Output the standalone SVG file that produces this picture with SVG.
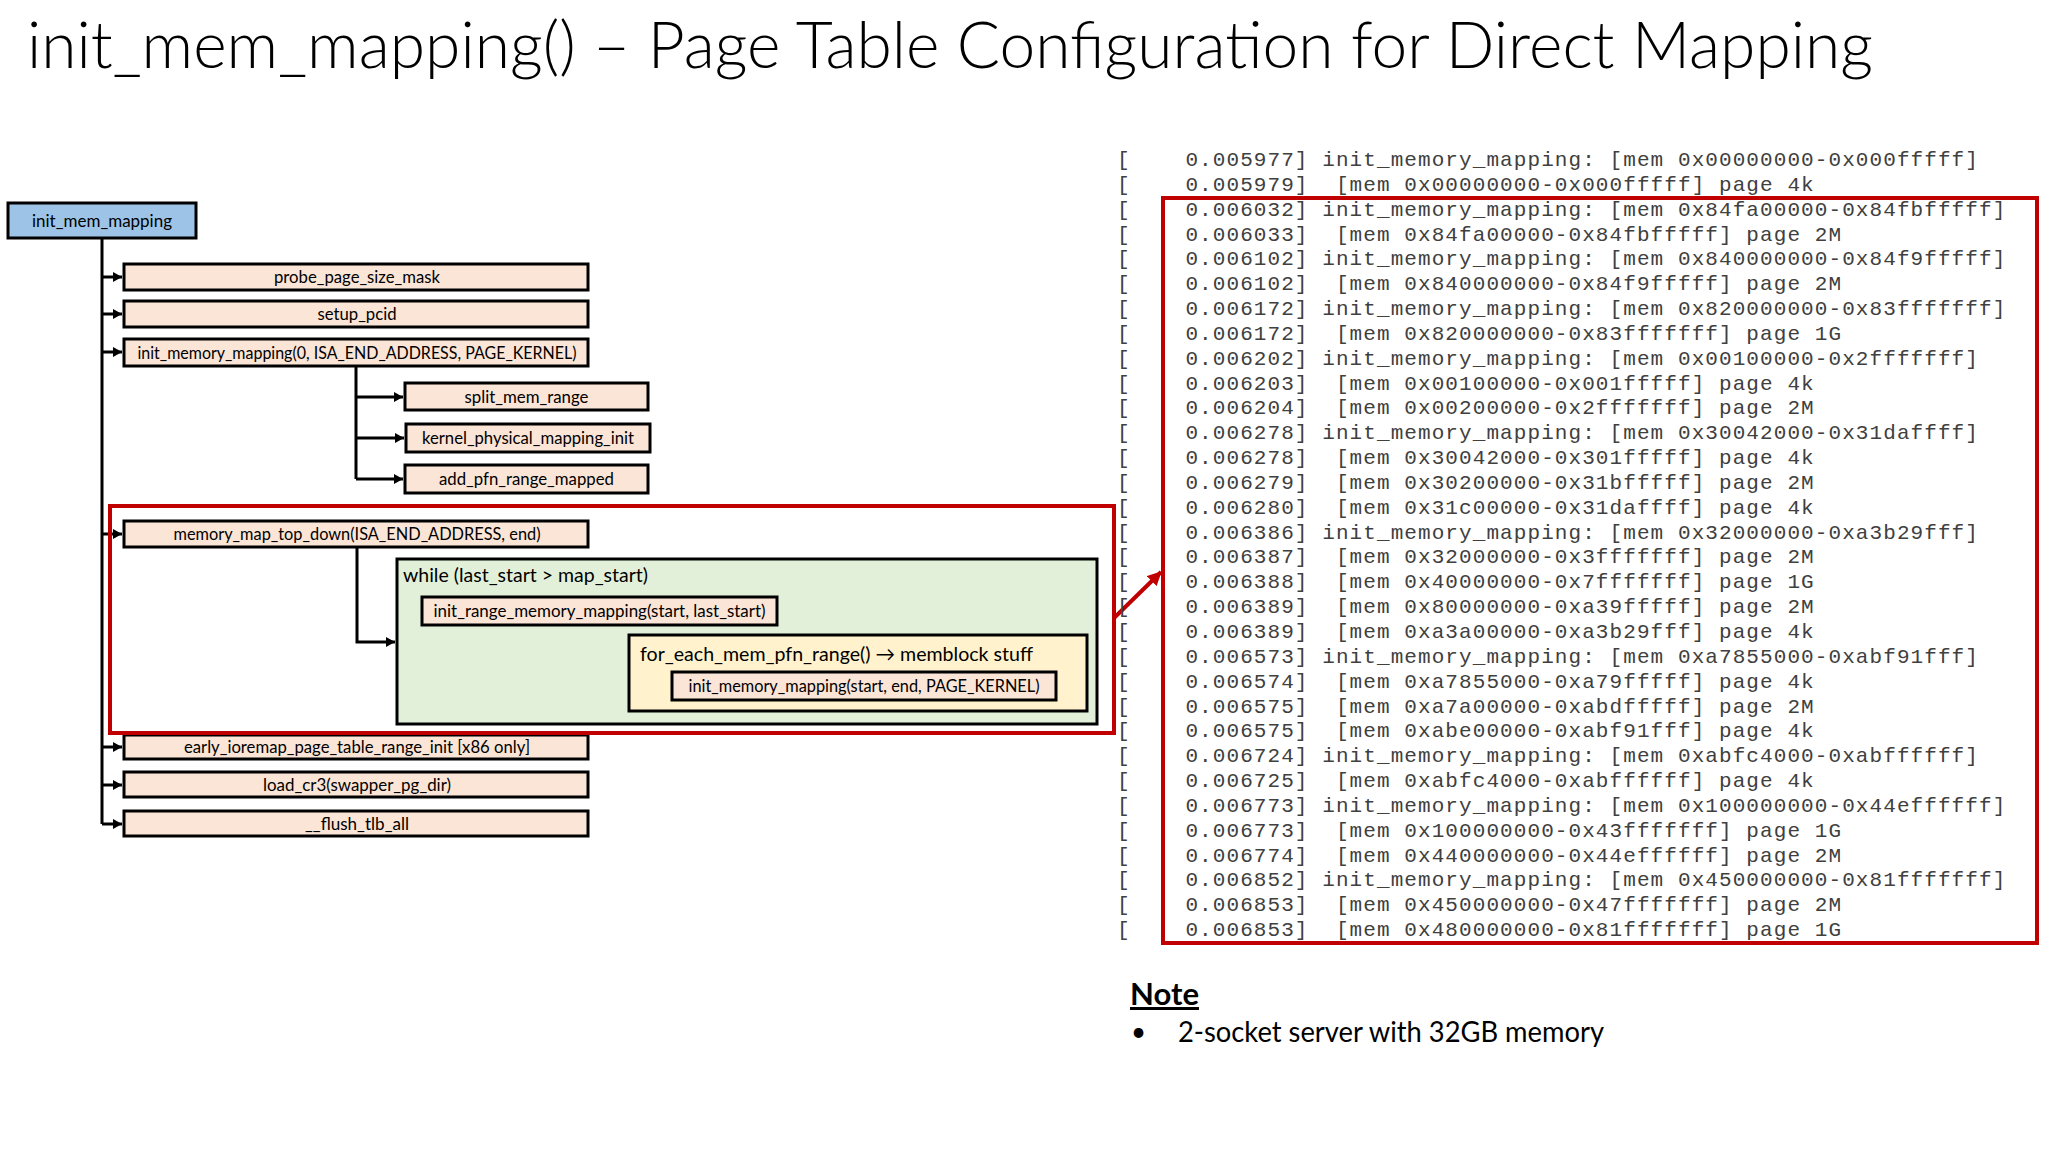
<svg xmlns="http://www.w3.org/2000/svg" width="2048" height="1152" viewBox="0 0 2048 1152">
<style>
.box{stroke:#000;stroke-width:3}
.peach{fill:#fbe5d6}
.blue{fill:#9dc3e6}
.green{fill:#e2f0d9}
.yellow{fill:#fff2cc}
.lbl{font-family:Lato,"Open Sans","Liberation Sans",sans-serif;font-size:17px;fill:#000;text-anchor:middle}
.lbl2{font-family:Lato,"Open Sans","Liberation Sans",sans-serif;font-size:20px;fill:#000}
.conn{stroke:#000;stroke-width:3;fill:none}
.red{stroke:#c00000;stroke-width:4;fill:none}
.log{font-family:"Liberation Mono","Courier New",monospace;font-size:21px;letter-spacing:1.08px;fill:#404040;white-space:pre}
</style>
<defs>
<marker id="ah" markerUnits="userSpaceOnUse" markerWidth="9" markerHeight="10" refX="9" refY="5" orient="auto">
<path d="M0,0 L9,5 L0,10 z" fill="#000"/>
</marker>
<marker id="rah" markerUnits="userSpaceOnUse" markerWidth="14" markerHeight="14" refX="13" refY="7" orient="auto">
<path d="M0,0 L14,7 L0,14 z" fill="#c00000"/>
</marker>
</defs>
<rect width="2048" height="1152" fill="#fff"/>
<text x="27" y="68" font-family="Lato,'Open Sans','Liberation Sans',sans-serif" font-weight="300" font-size="66" textLength="1846" lengthAdjust="spacingAndGlyphs" fill="#000">init_mem_mapping() – Page Table Configuration for Direct Mapping</text>

<g id="connectors">
<path class="conn" d="M102,238 V824"/>
<path class="conn" d="M102,277 H122" marker-end="url(#ah)"/>
<path class="conn" d="M102,314 H122" marker-end="url(#ah)"/>
<path class="conn" d="M102,352 H122" marker-end="url(#ah)"/>
<path class="conn" d="M102,534 H122" marker-end="url(#ah)"/>
<path class="conn" d="M102,747 H122" marker-end="url(#ah)"/>
<path class="conn" d="M102,785 H122" marker-end="url(#ah)"/>
<path class="conn" d="M102,824 H122" marker-end="url(#ah)"/>
<path class="conn" d="M356,366 V479"/>
<path class="conn" d="M356,397 H403" marker-end="url(#ah)"/>
<path class="conn" d="M356,438 H404" marker-end="url(#ah)"/>
<path class="conn" d="M356,479 H403" marker-end="url(#ah)"/>
<path class="conn" d="M357,547 V642 H395" marker-end="url(#ah)"/>
<path class="conn" d="M599,625 V673 H627" marker-end="url(#ah)"/>
<path d="M1114,618 L1161,572" stroke="#c00000" stroke-width="4" fill="none" marker-end="url(#rah)"/>
</g>

<g id="init_mem_mapping"><rect class="box blue" x="8" y="203" width="188" height="35"/><text class="lbl" x="102" y="226.5" textLength="140" lengthAdjust="spacingAndGlyphs">init_mem_mapping</text></g>
<g id="probe_page_size_mask"><rect class="box peach" x="124" y="264" width="464" height="26"/><text class="lbl" x="357" y="283" textLength="166" lengthAdjust="spacingAndGlyphs">probe_page_size_mask</text></g>
<g id="setup_pcid"><rect class="box peach" x="124" y="301" width="464" height="26"/><text class="lbl" x="357" y="320" textLength="79" lengthAdjust="spacingAndGlyphs">setup_pcid</text></g>
<g id="init_memory_mapping_isa"><rect class="box peach" x="124" y="339" width="464" height="27"/><text class="lbl" x="357" y="358.5" textLength="439" lengthAdjust="spacingAndGlyphs">init_memory_mapping(0, ISA_END_ADDRESS, PAGE_KERNEL)</text></g>
<g id="split_mem_range"><rect class="box peach" x="405" y="383" width="243" height="27"/><text class="lbl" x="526.5" y="402.5" textLength="124" lengthAdjust="spacingAndGlyphs">split_mem_range</text></g>
<g id="kernel_physical_mapping_init"><rect class="box peach" x="406" y="424" width="244" height="28"/><text class="lbl" x="528" y="444" textLength="212" lengthAdjust="spacingAndGlyphs">kernel_physical_mapping_init</text></g>
<g id="add_pfn_range_mapped"><rect class="box peach" x="405" y="465" width="243" height="28"/><text class="lbl" x="526.5" y="485" textLength="175" lengthAdjust="spacingAndGlyphs">add_pfn_range_mapped</text></g>
<g id="memory_map_top_down"><rect class="box peach" x="124" y="521" width="464" height="26"/><text class="lbl" x="357" y="540" textLength="367" lengthAdjust="spacingAndGlyphs">memory_map_top_down(ISA_END_ADDRESS, end)</text></g>
<g id="while_loop"><rect class="box green" x="397" y="559" width="700" height="165"/><text class="lbl2" x="403" y="582" textLength="245" lengthAdjust="spacingAndGlyphs">while (last_start &gt; map_start)</text></g>
<g id="init_range_memory_mapping"><rect class="box peach" x="422" y="597" width="355" height="28"/><text class="lbl" x="599.5" y="617" textLength="332" lengthAdjust="spacingAndGlyphs">init_range_memory_mapping(start, last_start)</text></g>
<g id="for_each_mem_pfn_range"><rect class="box yellow" x="629" y="635" width="458" height="76"/><text class="lbl2" x="640" y="661" textLength="393" lengthAdjust="spacingAndGlyphs">for_each_mem_pfn_range() → memblock stuff</text></g>
<g id="init_memory_mapping_range"><rect class="box peach" x="672" y="672" width="384" height="28"/><text class="lbl" x="864" y="692" textLength="351" lengthAdjust="spacingAndGlyphs">init_memory_mapping(start, end, PAGE_KERNEL)</text></g>
<g id="early_ioremap"><rect class="box peach" x="124" y="735" width="464" height="24"/><text class="lbl" x="357" y="753" textLength="346" lengthAdjust="spacingAndGlyphs">early_ioremap_page_table_range_init [x86 only]</text></g>
<g id="load_cr3"><rect class="box peach" x="124" y="772" width="464" height="25"/><text class="lbl" x="357" y="790.5" textLength="188" lengthAdjust="spacingAndGlyphs">load_cr3(swapper_pg_dir)</text></g>
<g id="flush_tlb_all"><rect class="box peach" x="124" y="811" width="464" height="25"/><text class="lbl" x="357" y="829.5" textLength="104" lengthAdjust="spacingAndGlyphs">__flush_tlb_all</text></g>

<rect id="highlight_left" class="red" x="110" y="506" width="1004" height="227"/>

<g id="log">
<text class="log" xml:space="preserve" x="1117" y="166">[    0.005977] init_memory_mapping: [mem 0x00000000-0x000fffff]</text>
<text class="log" xml:space="preserve" x="1117" y="190.8">[    0.005979]  [mem 0x00000000-0x000fffff] page 4k</text>
<text class="log" xml:space="preserve" x="1117" y="215.7">[    0.006032] init_memory_mapping: [mem 0x84fa00000-0x84fbfffff]</text>
<text class="log" xml:space="preserve" x="1117" y="240.5">[    0.006033]  [mem 0x84fa00000-0x84fbfffff] page 2M</text>
<text class="log" xml:space="preserve" x="1117" y="265.4">[    0.006102] init_memory_mapping: [mem 0x840000000-0x84f9fffff]</text>
<text class="log" xml:space="preserve" x="1117" y="290.2">[    0.006102]  [mem 0x840000000-0x84f9fffff] page 2M</text>
<text class="log" xml:space="preserve" x="1117" y="315.0">[    0.006172] init_memory_mapping: [mem 0x820000000-0x83fffffff]</text>
<text class="log" xml:space="preserve" x="1117" y="339.9">[    0.006172]  [mem 0x820000000-0x83fffffff] page 1G</text>
<text class="log" xml:space="preserve" x="1117" y="364.7">[    0.006202] init_memory_mapping: [mem 0x00100000-0x2fffffff]</text>
<text class="log" xml:space="preserve" x="1117" y="389.6">[    0.006203]  [mem 0x00100000-0x001fffff] page 4k</text>
<text class="log" xml:space="preserve" x="1117" y="414.4">[    0.006204]  [mem 0x00200000-0x2fffffff] page 2M</text>
<text class="log" xml:space="preserve" x="1117" y="439.2">[    0.006278] init_memory_mapping: [mem 0x30042000-0x31daffff]</text>
<text class="log" xml:space="preserve" x="1117" y="464.1">[    0.006278]  [mem 0x30042000-0x301fffff] page 4k</text>
<text class="log" xml:space="preserve" x="1117" y="488.9">[    0.006279]  [mem 0x30200000-0x31bfffff] page 2M</text>
<text class="log" xml:space="preserve" x="1117" y="513.8">[    0.006280]  [mem 0x31c00000-0x31daffff] page 4k</text>
<text class="log" xml:space="preserve" x="1117" y="538.6">[    0.006386] init_memory_mapping: [mem 0x32000000-0xa3b29fff]</text>
<text class="log" xml:space="preserve" x="1117" y="563.4">[    0.006387]  [mem 0x32000000-0x3fffffff] page 2M</text>
<text class="log" xml:space="preserve" x="1117" y="588.3">[    0.006388]  [mem 0x40000000-0x7fffffff] page 1G</text>
<text class="log" xml:space="preserve" x="1117" y="613.1">[    0.006389]  [mem 0x80000000-0xa39fffff] page 2M</text>
<text class="log" xml:space="preserve" x="1117" y="638.0">[    0.006389]  [mem 0xa3a00000-0xa3b29fff] page 4k</text>
<text class="log" xml:space="preserve" x="1117" y="662.8">[    0.006573] init_memory_mapping: [mem 0xa7855000-0xabf91fff]</text>
<text class="log" xml:space="preserve" x="1117" y="687.6">[    0.006574]  [mem 0xa7855000-0xa79fffff] page 4k</text>
<text class="log" xml:space="preserve" x="1117" y="712.5">[    0.006575]  [mem 0xa7a00000-0xabdfffff] page 2M</text>
<text class="log" xml:space="preserve" x="1117" y="737.3">[    0.006575]  [mem 0xabe00000-0xabf91fff] page 4k</text>
<text class="log" xml:space="preserve" x="1117" y="762.2">[    0.006724] init_memory_mapping: [mem 0xabfc4000-0xabffffff]</text>
<text class="log" xml:space="preserve" x="1117" y="787.0">[    0.006725]  [mem 0xabfc4000-0xabffffff] page 4k</text>
<text class="log" xml:space="preserve" x="1117" y="811.8">[    0.006773] init_memory_mapping: [mem 0x100000000-0x44effffff]</text>
<text class="log" xml:space="preserve" x="1117" y="836.7">[    0.006773]  [mem 0x100000000-0x43fffffff] page 1G</text>
<text class="log" xml:space="preserve" x="1117" y="861.5">[    0.006774]  [mem 0x440000000-0x44effffff] page 2M</text>
<text class="log" xml:space="preserve" x="1117" y="886.4">[    0.006852] init_memory_mapping: [mem 0x450000000-0x81fffffff]</text>
<text class="log" xml:space="preserve" x="1117" y="911.2">[    0.006853]  [mem 0x450000000-0x47fffffff] page 2M</text>
<text class="log" xml:space="preserve" x="1117" y="936.0">[    0.006853]  [mem 0x480000000-0x81fffffff] page 1G</text>
</g>
<rect id="highlight_log" class="red" x="1163" y="198" width="874" height="745"/>

<g id="note">
<text x="1130" y="1005" font-family="Lato,'Open Sans','Liberation Sans',sans-serif" font-weight="bold" font-size="30" text-decoration="underline" textLength="69" lengthAdjust="spacingAndGlyphs" fill="#000">Note</text>
<text x="1131" y="1041" font-family="Lato,'Open Sans','Liberation Sans',sans-serif" font-size="26" fill="#000">•</text>
<text x="1178" y="1042" font-family="Lato,'Open Sans','Liberation Sans',sans-serif" font-size="28" textLength="426" lengthAdjust="spacingAndGlyphs" fill="#000">2-socket server with 32GB memory</text>
</g>
</svg>
